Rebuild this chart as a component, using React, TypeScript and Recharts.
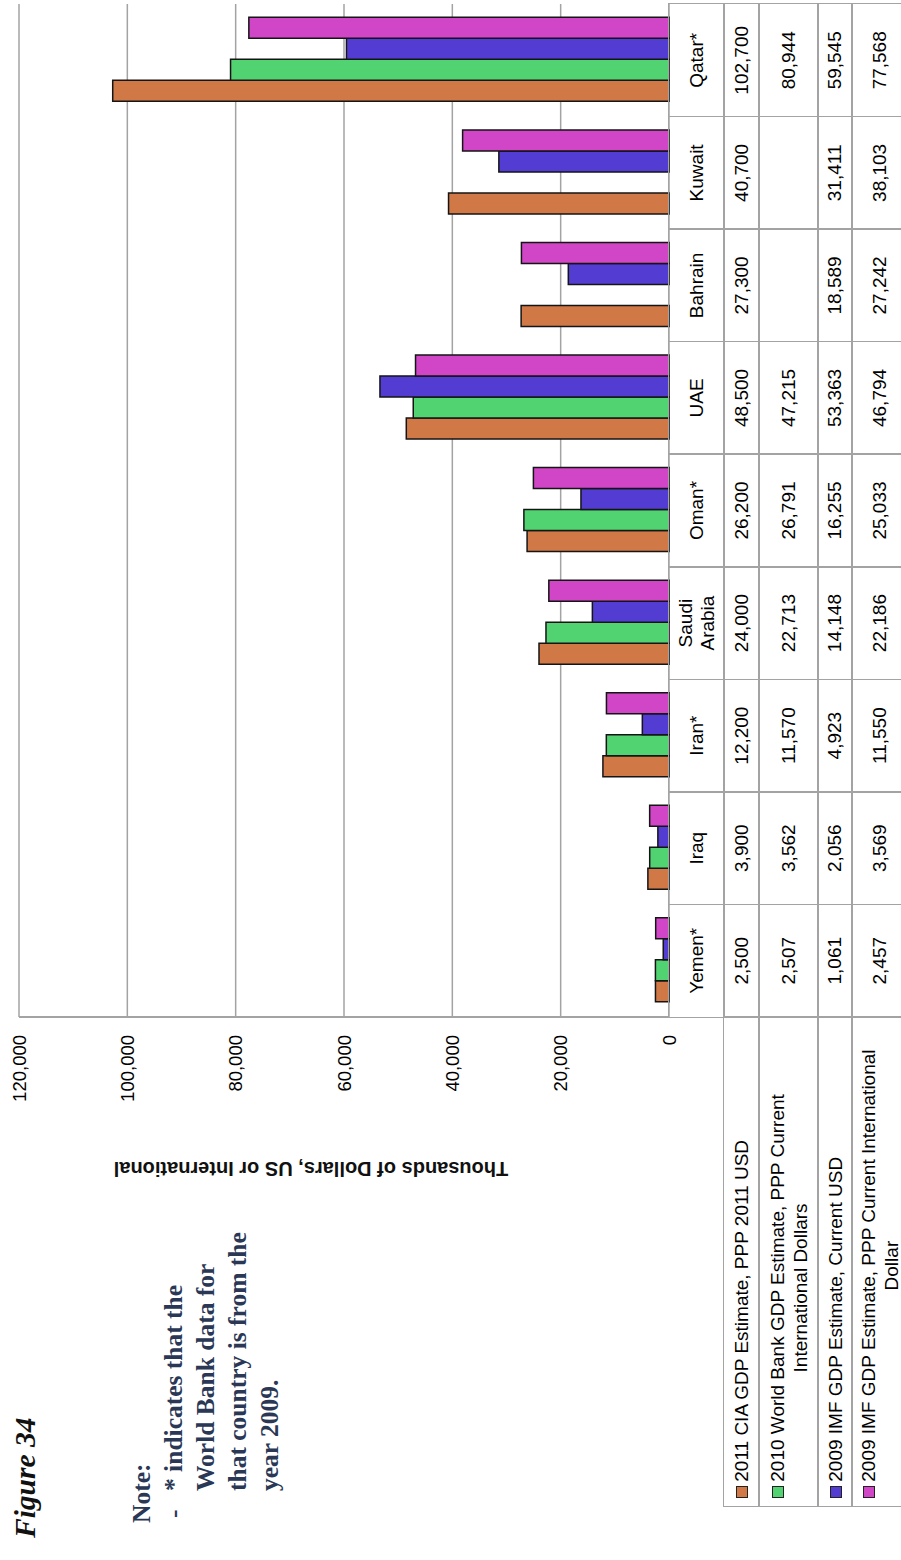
import { BarChart, Bar, XAxis, YAxis, CartesianGrid } from 'recharts';

// Country GDP per capita figures, original order left to right (Yemen ... Qatar)
const countries = ['Yemen*', 'Iraq', 'Iran*', 'Saudi Arabia', 'Oman*', 'UAE', 'Bahrain', 'Kuwait', 'Qatar*'];
const ciaPpp2011 = [2500, 3900, 12200, 24000, 26200, 48500, 27300, 40700, 102700];
const worldBankPpp2010 = [2507, 3562, 11570, 22713, 26791, 47215, null, null, 80944];
const imfUsd2009 = [1061, 2056, 4923, 14148, 16255, 53363, 18589, 31411, 59545];
const imfPpp2009 = [2457, 3569, 11550, 22186, 25033, 46794, 27242, 38103, 77568];
const valueTicks = [0, 20000, 40000, 60000, 80000, 100000, 120000];

const seriesKeys = ['cia', 'wb', 'imfUsd', 'imfPpp'];
const seriesNames = [
  '2011 CIA GDP Estimate, PPP 2011 USD',
  '2010 World Bank GDP Estimate, PPP Current\nInternational Dollars',
  '2009 IMF GDP Estimate, Current USD',
  '2009 IMF GDP Estimate, PPP Current International\nDollar',
];
const seriesColors = ['#D07846', '#52D372', '#523CD2', '#D046C6'];
const seriesValues = [ciaPpp2011, worldBankPpp2010, imfUsd2009, imfPpp2009];

const chartData = countries.map((country, i) => ({
  country,
  cia: ciaPpp2011[i],
  wb: worldBankPpp2010[i],
  imfUsd: imfUsd2009[i],
  imfPpp: imfPpp2009[i],
}));

// the page is a landscape sheet turned a quarter turn counter-clockwise
const PAGE_W = 1560;
const PAGE_H = 901;
const PLOT_LEFT = 543;
const PLOT_RIGHT = 1556;
const PLOT_TOP = 19;
const PLOT_BOTTOM = 669;
const LEGEND_LEFT = 54;
const ROW_EDGES = [669, 724, 759, 818, 852, 908];

const GRID = '#a3a3a3';
const SANS = "'Liberation Sans', Arial, sans-serif";
const SERIF = "'Liberation Serif', 'Times New Roman', serif";

const fmt = (v: number | null) => (v == null ? '' : v.toLocaleString('en-US'));

function Cell({ left, top, width, height, children, style }: any) {
  return (
    <div
      style={{
        position: 'absolute',
        left: left - 0.75,
        top: top - 0.75,
        width: width + 1.5,
        height: height + 1.5,
        boxSizing: 'border-box',
        border: `1.5px solid ${GRID}`,
        display: 'flex',
        alignItems: 'center',
        justifyContent: 'center',
        textAlign: 'center',
        fontFamily: SANS,
        fontSize: 19,
        lineHeight: '22px',
        color: '#000',
        ...style,
      }}
    >
      {children}
    </div>
  );
}

function DataTable() {
  const colW = (PLOT_RIGHT - PLOT_LEFT) / countries.length;
  const headTop = ROW_EDGES[0];
  const headH = ROW_EDGES[1] - ROW_EDGES[0];
  return (
    <>
      {countries.map((c, i) => (
        <Cell key={c} left={PLOT_LEFT + i * colW} top={headTop} width={colW} height={headH} style={{ padding: '0 6px' }}>
          {c}
        </Cell>
      ))}
      {seriesKeys.map((key, r) => {
        const top = ROW_EDGES[r + 1];
        const h = ROW_EDGES[r + 2] - top;
        return (
          <div key={key}>
            <Cell
              left={LEGEND_LEFT}
              top={top}
              width={PLOT_LEFT - LEGEND_LEFT}
              height={h}
              style={{ justifyContent: 'flex-start', paddingLeft: 8 }}
            >
              <div style={{ display: 'flex', alignItems: 'flex-start' }}>
                <div
                  style={{
                    width: 10,
                    height: 10,
                    marginTop: 6,
                    marginRight: 4,
                    flex: 'none',
                    background: seriesColors[r],
                    border: '1px solid #222',
                  }}
                />
                <div style={{ whiteSpace: 'pre-line', textAlign: 'center', lineHeight: '23px' }}>
                  {seriesNames[r]}
                </div>
              </div>
            </Cell>
            {seriesValues[r].map((v, i) => (
              <Cell key={i} left={PLOT_LEFT + i * colW} top={top} width={colW} height={h}>
                {fmt(v)}
              </Cell>
            ))}
          </div>
        );
      })}
    </>
  );
}

function Notes() {
  return (
    <>
      <div
        style={{
          position: 'absolute',
          left: 22,
          top: 11,
          fontFamily: SERIF,
          fontStyle: 'italic',
          fontWeight: 'bold',
          fontSize: 29.5,
          lineHeight: '29px',
          color: '#111',
          whiteSpace: 'nowrap',
        }}
      >
        Figure 34
      </div>
      <div
        style={{
          position: 'absolute',
          left: 37,
          top: 126,
          fontFamily: SERIF,
          fontWeight: 'bold',
          fontSize: 25.5,
          lineHeight: '32px',
          color: '#2a3856',
          whiteSpace: 'nowrap',
        }}
      >
        <div>Note:</div>
        <div style={{ display: 'flex' }}>
          <div style={{ width: 27, paddingLeft: 5 }}>-</div>
          <div>
            * indicates that the
            <br />
            World Bank data for
            <br />
            that country is from the
            <br />
            year 2009.
          </div>
        </div>
      </div>
    </>
  );
}

export default function App() {
  return (
    <div
      style={{
        position: 'absolute',
        left: 0,
        top: 0,
        width: PAGE_H,
        height: PAGE_W,
        overflow: 'hidden',
        background: '#fff',
      }}
    >
      <div
        style={{
          position: 'absolute',
          left: 0,
          top: 0,
          width: PAGE_W,
          height: PAGE_H,
          transformOrigin: '0 0',
          transform: `translate(0px, ${PAGE_W}px) rotate(-90deg)`,
        }}
      >
        <div style={{ position: 'absolute', left: 0, top: 0 }}>
          <BarChart
            width={PAGE_W}
            height={PLOT_BOTTOM + 31}
            data={chartData}
            margin={{ top: PLOT_TOP, right: PAGE_W - PLOT_RIGHT, bottom: 31, left: 0 }}
            barGap={0}
            barCategoryGap="13.5%"
          >
            <CartesianGrid vertical={false} stroke={GRID} strokeWidth={1.5} />
            <XAxis dataKey="country" hide />
            <YAxis
              width={PLOT_LEFT}
              domain={[0, 120000]}
              ticks={valueTicks}
              interval={0}
              tickFormatter={(v: number) => v.toLocaleString('en-US')}
              tick={{ fill: '#000', fontSize: 18.5, fontFamily: SANS }}
              axisLine={{ stroke: GRID, strokeWidth: 2 }}
              tickLine={false}
              tickSize={0}
              tickMargin={18}
            />
            {seriesKeys.map((key, r) => (
              <Bar
                key={key}
                dataKey={key}
                name={seriesNames[r]}
                fill={seriesColors[r]}
                stroke="#151515"
                strokeWidth={1.5}
                isAnimationActive={false}
              />
            ))}
          </BarChart>
        </div>
        <div
          style={{
            position: 'absolute',
            left: 392,
            top: 311,
            transform: 'translate(-50%, -50%) rotate(-90deg)',
            fontFamily: SANS,
            fontWeight: 'bold',
            fontSize: 20,
            whiteSpace: 'nowrap',
            color: '#111',
          }}
        >
          Thousands of Dollars, US or International
        </div>
        <DataTable />
        <Notes />
      </div>
    </div>
  );
}
